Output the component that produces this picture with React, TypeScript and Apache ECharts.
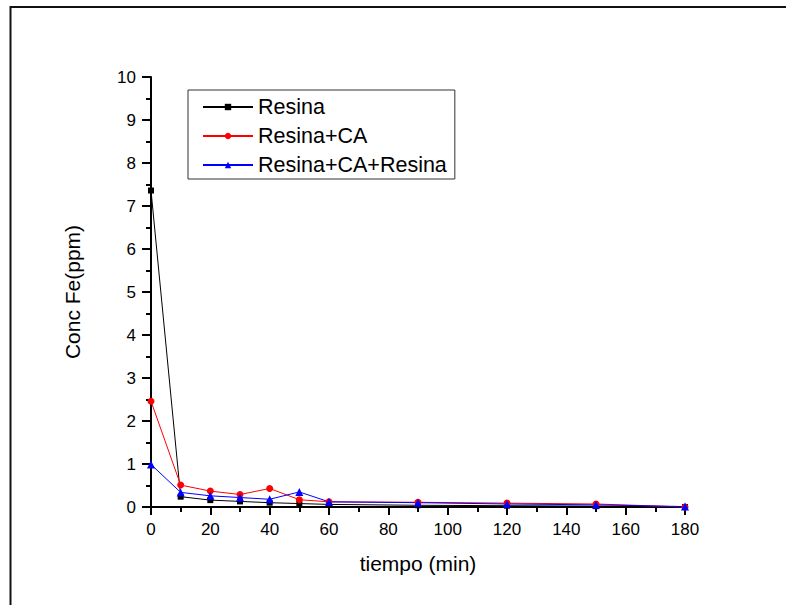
import React, { useEffect, useRef } from "react";
import * as echarts from "echarts";

const tiempo = [0, 10, 20, 30, 40, 50, 60, 90, 120, 150, 180];
const resina = [7.36, 0.24, 0.16, 0.13, 0.1, 0.08, 0.06, 0.04, 0.03, 0.02, 0.0];
const resinaCA = [2.46, 0.51, 0.37, 0.29, 0.43, 0.17, 0.12, 0.11, 0.09, 0.07, 0.0];
const resinaCAResina = [0.99, 0.34, 0.26, 0.22, 0.18, 0.35, 0.12, 0.1, 0.07, 0.05, 0.01];
const seriesNames = ["Resina", "Resina+CA", "Resina+CA+Resina"];
const xTitle = "tiempo (min)";
const yTitle = "Conc Fe(ppm)";

const FONT = "Liberation Sans, Arial, sans-serif";

const pairs = (ys: number[]) => tiempo.map((t, i) => [t, ys[i]]);

export default function App() {
  const ref = useRef<HTMLDivElement>(null);
  useEffect(() => {
    if (!ref.current) return;
    const chart = echarts.init(ref.current, undefined, { renderer: "svg" });
    const mk = (name: string, ys: number[], color: string, symbol: string, size: number) => ({
      name,
      type: "line",
      data: pairs(ys),
      symbol,
      symbolSize: size,
      clip: false,
      lineStyle: { color, width: 1 },
      itemStyle: { color },
      emphasis: { disabled: true },
    });
    chart.setOption({
      animation: false,
      backgroundColor: "#ffffff",
      textStyle: { fontFamily: FONT, color: "#000" },
      graphic: [
        {
          type: "rect",
          shape: { x: 10.5, y: 7, width: 900, height: 800 },
          style: { fill: "none", stroke: "#111", lineWidth: 2 },
          silent: true,
          z: -1,
        },
      ],
      grid: { left: 151, right: 101, top: 77, bottom: 98, containLabel: false },
      legend: {
        left: 188,
        top: 90,
        orient: "vertical",
        data: seriesNames,
        itemWidth: 50,
        itemHeight: 8,
        itemGap: 7,
        padding: [6, 8, 3, 14],
        borderColor: "#333",
        borderWidth: 1,
        backgroundColor: "#fff",
        textStyle: { fontSize: 21.5, color: "#000", fontFamily: FONT, lineHeight: 20 },
      },
      xAxis: {
        type: "value",
        min: 0,
        max: 180,
        interval: 20,
        name: xTitle,
        nameLocation: "middle",
        nameGap: 46,
        nameTextStyle: { fontSize: 21, color: "#000", fontFamily: FONT },
        splitLine: { show: false },
        axisLine: { show: true, lineStyle: { color: "#000", width: 2 } },
        axisTick: { show: true, inside: false, length: 8, lineStyle: { color: "#000", width: 2 } },
        minorTick: { show: true, splitNumber: 2, length: 5, lineStyle: { color: "#000", width: 2 } },
        axisLabel: { fontSize: 17, color: "#000", margin: 14, fontFamily: FONT },
      },
      yAxis: {
        type: "value",
        min: 0,
        max: 10,
        interval: 1,
        name: yTitle,
        nameLocation: "middle",
        nameGap: 68,
        nameRotate: 90,
        nameTextStyle: { fontSize: 21, color: "#000", fontFamily: FONT },
        splitLine: { show: false },
        axisLine: { show: true, lineStyle: { color: "#000", width: 2 } },
        axisTick: { show: true, inside: false, length: 9, lineStyle: { color: "#000", width: 2 } },
        minorTick: { show: true, splitNumber: 2, length: 5, lineStyle: { color: "#000", width: 2 } },
        axisLabel: { fontSize: 17, color: "#000", margin: 15, fontFamily: FONT },
      },
      series: [
        mk(seriesNames[0], resina, "#000000", "rect", 6),
        mk(seriesNames[1], resinaCA, "#ff0000", "circle", 7),
        mk(seriesNames[2], resinaCAResina, "#0000ff", "triangle", 8),
      ],
    });
    return () => chart.dispose();
  }, []);
  return (
    <div
      ref={ref}
      style={{ position: "fixed", left: 0, top: 0, width: 786, height: 605, background: "#fff" }}
    />
  );
}
